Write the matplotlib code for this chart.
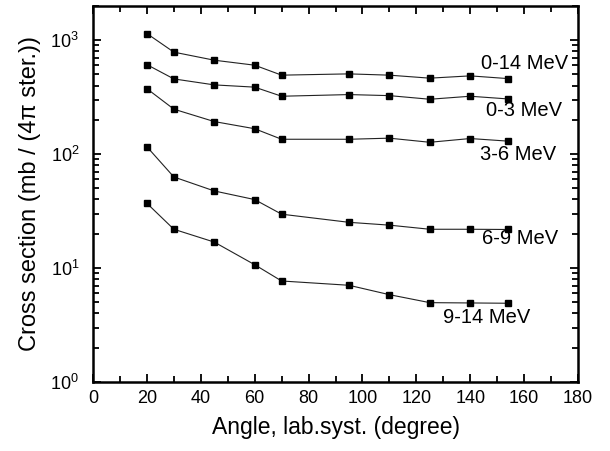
import matplotlib
matplotlib.use("Agg")
import matplotlib.pyplot as plt
import numpy as np

plt.rcParams['font.family'] = ['Liberation Sans', 'DejaVu Sans']
plt.rcParams['mathtext.fontset'] = 'custom'
plt.rcParams['mathtext.rm'] = 'Liberation Sans'
plt.rcParams['mathtext.it'] = 'Liberation Sans:italic'

angles = [20, 30, 45, 60, 70, 95, 110, 125, 140, 154]
series_labels = ["0-14 MeV", "0-3 MeV", "3-6 MeV", "6-9 MeV", "9-14 MeV"]
cs_0_14 = [1143, 785, 667, 603, 493, 506, 493, 464, 486, 460]
cs_0_3 = [610, 457, 405, 387, 322, 333, 326, 303, 322, 305]
cs_3_6 = [375, 248, 193, 167, 135, 135, 138, 127, 137, 130]
cs_6_9 = [116, 63, 47.5, 39.9, 29.7, 25.2, 23.8, 21.9, 21.9, 21.8]
cs_9_14 = [37, 21.9, 16.9, 10.7, 7.7, 7.06, 5.84, 4.97, 4.94, 4.91]
err_9_14 = [0, 0, 0, 0.7, 0, 0.35, 0.25, 0, 0.15, 0.15]
err_6_9 = [0, 0, 0, 1.5, 0, 0, 0, 0, 0, 0]
all_series = [cs_0_14, cs_0_3, cs_3_6, cs_6_9, cs_9_14]
all_errs = [None, None, None, err_6_9, err_9_14]
label_pos = [(144, 630), (146, 241), (143.5, 100), (144.5, 18.0), (130, 3.7)]

fig = plt.figure(figsize=(6.1, 4.51), dpi=100)
ax = fig.add_axes([0.1525, 0.153, 0.795, 0.834])

for ys, err in zip(all_series, all_errs):
    ax.plot(angles, ys, '-', color='#222222', lw=0.8, zorder=2)
    if err is not None:
        ax.errorbar(angles, ys, yerr=err, fmt='none', ecolor='black', elinewidth=1.0, capsize=0, zorder=3)
    ax.plot(angles, ys, 's', color='black', ms=5, zorder=4)

for lab, (lx, ly) in zip(series_labels, label_pos):
    ax.text(lx, ly, lab, fontsize=14.5, ha='left', va='center')

ax.set_yscale('log')
ax.set_xlim(0, 180)
ax.set_ylim(1, 2000)
ax.set_xticks(np.arange(0, 181, 20))
ax.set_xticks(np.arange(0, 181, 10), minor=True)
ax.tick_params(which='both', direction='in', top=True, right=True, labelsize=13, width=1.3)
ax.tick_params(which='major', length=6)
ax.tick_params(which='minor', length=4)
ax.tick_params(axis='x', pad=6)
ax.tick_params(axis='y', pad=10)
for s in ax.spines.values():
    s.set_linewidth(1.8)

ax.set_xlabel('Angle, lab.syst. (degree)', fontsize=16.5, labelpad=6)
ax.set_ylabel('Cross section (mb / (4π ster.))', fontsize=17, labelpad=7)

fig.savefig('out.png', dpi=100)
